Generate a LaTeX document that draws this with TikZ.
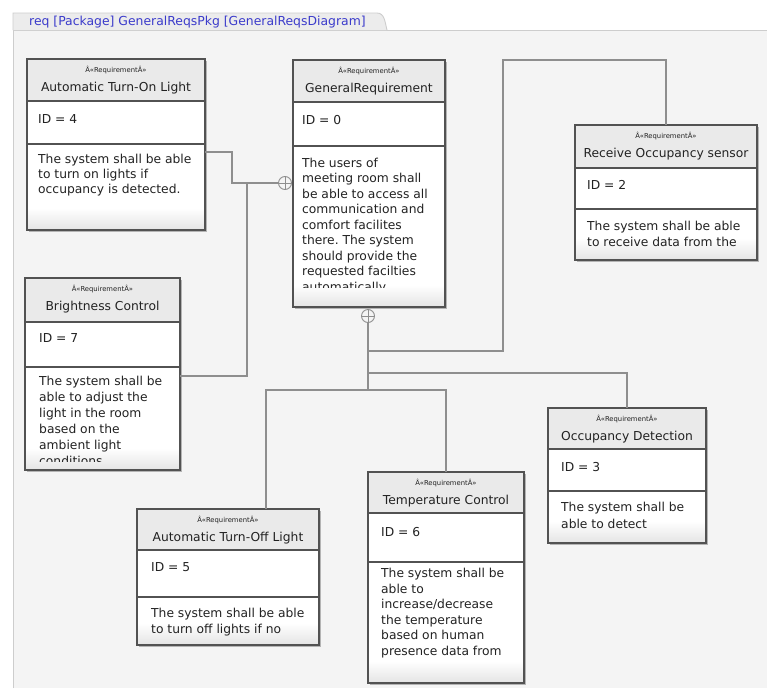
\documentclass[tikz,border=0pt]{standalone}
\usepackage{fontspec}
\setmainfont{DejaVu Sans}
\frenchspacing

\definecolor{bgc}{HTML}{F4F4F4}
\definecolor{tabc}{HTML}{ECECEC}
\definecolor{framec}{HTML}{CDCDCD}
\definecolor{boxline}{HTML}{525252}
\definecolor{headc}{HTML}{EAEAEA}
\definecolor{descbot}{HTML}{E4E4E4}
\definecolor{shadowc}{HTML}{B4B4B4}
\definecolor{connc}{HTML}{8E8E8E}
\definecolor{titlec}{HTML}{3B3BCB}
\definecolor{txtc}{HTML}{222222}

\tikzset{
  reqbox/.style={rectangle, draw=boxline, line width=1.3pt, fill=white,
    anchor=north west, inner sep=0pt, outer sep=0pt},
  stereo/.style={font=\fontsize{6.8}{7}\selectfont, text=txtc, inner sep=0pt},
  reqname/.style={font=\fontsize{12.3}{14}\selectfont, text=txtc, inner sep=0pt},
  desc/.style={font=\fontsize{12.3}{14}\selectfont, text=txtc, inner sep=0pt},
  titletxt/.style={font=\fontsize{12.4}{14}\selectfont, text=titlec, inner sep=0pt},
  conn/.style={draw=connc, line width=1.2pt},
  plusc/.style={circle, draw=connc, line width=0.9pt, fill=bgc,
    minimum size=13pt, inner sep=0pt, outer sep=0pt,
    path picture={\draw[connc, line width=0.8pt]
      (path picture bounding box.north) -- (path picture bounding box.south)
      (path picture bounding box.west) -- (path picture bounding box.east);}}
}

% requirement block: name, x1, y1, x2, y2, header bottom, id bottom, title
\newcommand{\ReqBlock}[8]{%
  \fill[shadowc] ({#2+1.8},{#3+1.8}) rectangle ({#4+1.8},{#5+1.8});
  \pgfmathsetmacro{\rqw}{#4-#2}\pgfmathsetmacro{\rqh}{#5-#3}%
  \node[reqbox, minimum width=\rqw pt, minimum height=\rqh pt] (#1) at (#2,#3) {};
  \fill[headc] (#2,#3) rectangle (#4,#6);
  \shade[top color=white, bottom color=descbot] (#2,{#5-22}) rectangle (#4,#5);
  \draw[boxline, line width=1.1pt] (#2,#6) -- (#4,#6) (#2,#7) -- (#4,#7);
  \draw[boxline, line width=1.3pt] (#1.north west) rectangle (#1.south east);
  \node[stereo, anchor=base] (#1-st) at ({(#2+#4)/2},{#3+13.5}) {Â«RequirementÂ»};
  \node[reqname, anchor=base] (#1-nm) at ({(#2+#4)/2},{#3+32.5}) {#8};
}

% description lines: name, text x, first baseline, line step, clip bottom, lines
\newcommand{\ReqDesc}[6]{%
  \begin{scope}
    \clip ({#2-4},{#3-16}) rectangle ({#2+185},#5);
    \foreach \ln [count=\i from 0] in {#6} {
      \node[desc, anchor=base west] (#1-l\i) at (#2,{#3+\i*#4}) {\ln};
    }
  \end{scope}
}

\begin{document}
\begin{tikzpicture}[x=1pt,y=-1pt]
\useasboundingbox (0,0) rectangle (767,688);
\fill[white] (0,0) rectangle (767,688);

% diagram frame and its heading tab
\fill[bgc] (13,30) rectangle (767,688);
\draw[framec, line width=0.9pt] (13,688) -- (13,30) -- (767,30);
\filldraw[fill=tabc, draw=framec, line width=0.9pt]
  (13,30) -- (13,13) -- (377,13) to[out=0,in=105] (387,30);
\node[titletxt, anchor=base west] (frametitle) at (29,25.5)
  {req [Package] GeneralReqsPkg [GeneralReqsDiagram]};

% requirement blocks
\ReqBlock{turnon}{27}{59}{205}{230}{101}{144}{Automatic Turn-On Light}
\ReqBlock{general}{293}{60}{445}{307}{102}{146}{GeneralRequirement}
\ReqBlock{receive}{575}{125}{757}{260}{168}{209}{Receive Occupancy sensor}
\ReqBlock{bright}{25}{278}{180}{470}{322}{367}{Brightness Control}
\ReqBlock{occ}{548}{408}{706}{543}{449}{491}{Occupancy Detection}
\ReqBlock{temp}{368}{472}{524}{683}{513}{562}{Temperature Control}
\ReqBlock{turnoff}{137}{509}{319}{645}{550}{597}{Automatic Turn-Off Light}

\node[desc, anchor=base west] (turnon-id) at (38,123) {ID = 4};
\node[desc, anchor=base west] (general-id) at (302,124.5) {ID = 0};
\node[desc, anchor=base west] (receive-id) at (587,189.5) {ID = 2};
\node[desc, anchor=base west] (bright-id) at (39,342.5) {ID = 7};
\node[desc, anchor=base west] (occ-id) at (561,471) {ID = 3};
\node[desc, anchor=base west] (temp-id) at (381,536) {ID = 6};
\node[desc, anchor=base west] (turnoff-id) at (151,571.5) {ID = 5};

\ReqDesc{turnon}{38}{163}{15}{228}{The system shall be able,to turn on lights if,occupancy is detected.}
\ReqDesc{general}{302}{167}{15.5}{287}{The users of,meeting room shall,be able to access all,communication and,comfort facilites,there. The system,should provide the,requested facilties,automatically.}
\ReqDesc{receive}{587}{230}{16.5}{258}{The system shall be able,to receive data from the}
\ReqDesc{bright}{39}{385}{16}{461}{The system shall be,able to adjust the,light in the room,based on the,ambient light,conditions.}
\ReqDesc{occ}{561}{511}{17}{541}{The system shall be,able to detect}
\ReqDesc{temp}{381}{577.5}{15.5}{681}{The system shall be,able to,increase/decrease,the temperature,based on human,presence data from}
\ReqDesc{turnoff}{151}{617}{16}{643}{The system shall be able,to turn off lights if no}

% containment markers
\node[plusc] (cL) at (285,183) {};
\node[plusc] (cB) at (368,316) {};

% connector bends
\coordinate (jOn) at (232,152);
\coordinate (kA) at (232,183);
\coordinate (jBr) at (247,376);
\coordinate (kB) at (247,183);
\coordinate (rA) at (503,60);
\coordinate (rB) at (368,351);
\coordinate (oA) at (368,373);
\coordinate (tA) at (368,390);
\coordinate (fA) at (266,390);

% containment connectors
\draw[conn] (turnon.east |- jOn) -- (jOn) -- (kA) -- (cL);
\draw[conn] (bright.east |- jBr) -- (jBr) -- (kB);
\draw[conn] (cB) -- (tA);
\draw[conn] (receive.north) |- (rA) |- (rB);
\draw[conn] (occ.north) |- (oA);
\draw[conn] (temp.north) |- (tA);
\draw[conn] (tA) -- (fA) -- (fA |- turnoff.north);
\end{tikzpicture}
\end{document}
